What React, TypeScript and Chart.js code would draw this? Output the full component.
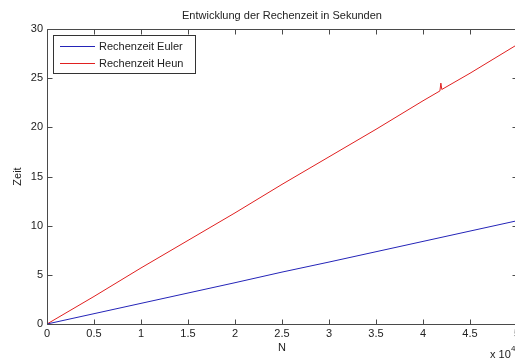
import React, { useEffect, useRef } from "react";
import { Chart, registerables } from "chart.js";

Chart.register(...registerables);

// Problem size N and measured run time (seconds)
const nEuler = [0, 5000, 10000, 15000, 20000, 25000, 30000, 35000, 40000, 45000, 50000];
const timeEuler = [0, 1.05, 2.1, 3.15, 4.2, 5.28, 6.3, 7.35, 8.4, 9.45, 10.5];

const nHeun = [0, 5000, 10000, 15000, 20000, 25000, 30000, 35000, 40000, 41800, 41900, 42000, 45000, 50000];
const timeHeun = [0, 2.8, 5.7, 8.5, 11.3, 14.2, 17.0, 19.8, 22.7, 23.7, 24.5, 23.85, 25.5, 28.4];

const seriesLabels = ["Rechenzeit Euler", "Rechenzeit Heun"];
const seriesColors = ["#2424b8", "#e02020"];

const xTicks = [0, 5000, 10000, 15000, 20000, 25000, 30000, 35000, 40000, 45000, 50000];
const yTicks = [0, 5, 10, 15, 20, 25, 30];

const titleText = "Entwicklung der Rechenzeit in Sekunden";
const xTitle = "N";
const yTitle = "Zeit";

const FONT = "'Liberation Sans', Arial, sans-serif";
const TEXT = "#222";
const AXIS = "#4a4a4a";

const toPoints = (xs: number[], ys: number[]) => xs.map((x, i) => ({ x, y: ys[i] }));

// Boxed axes with inward ticks, title, axis titles, exponent note and legend
const matlabFrame = {
  id: "matlabFrame",
  afterDatasetsDraw(chart: any) {
    const { ctx, chartArea } = chart;
    const { left, right, top, bottom } = chartArea;
    const xs = chart.scales.x;
    const ys = chart.scales.y;
    const tick = 5;
    ctx.save();
    ctx.strokeStyle = AXIS;
    ctx.lineWidth = 1;
    const L = Math.round(left) + 0.5;
    const R = Math.round(right) + 0.5;
    const T = Math.round(top) + 0.5;
    const B = Math.round(bottom) + 0.5;
    ctx.beginPath();
    ctx.rect(L, T, R - L, B - T);
    ctx.stroke();
    ctx.beginPath();
    xTicks.forEach((v) => {
      const px = Math.round(xs.getPixelForValue(v)) + 0.5;
      ctx.moveTo(px, B);
      ctx.lineTo(px, B - tick);
      ctx.moveTo(px, T);
      ctx.lineTo(px, T + tick);
    });
    yTicks.forEach((v) => {
      const py = Math.round(ys.getPixelForValue(v)) + 0.5;
      ctx.moveTo(L, py);
      ctx.lineTo(L + tick, py);
      ctx.moveTo(R, py);
      ctx.lineTo(R - tick, py);
    });
    ctx.stroke();

    ctx.fillStyle = TEXT;
    ctx.font = `11px ${FONT}`;
    ctx.textAlign = "center";
    ctx.textBaseline = "middle";
    ctx.fillText(titleText, (left + right) / 2, 16);
    ctx.fillText(xTitle, (left + right) / 2, 348);
    ctx.save();
    ctx.translate(18, (top + bottom) / 2);
    ctx.rotate(-Math.PI / 2);
    ctx.fillText(yTitle, 0, 0);
    ctx.restore();

    // exponent note for the N axis
    ctx.textAlign = "left";
    ctx.textBaseline = "alphabetic";
    ctx.font = `11px ${FONT}`;
    ctx.fillText("x 10", 490, 358);
    ctx.font = `8px ${FONT}`;
    ctx.fillText("4", 511, 351);

    // legend
    const lx = 53.5, ly = 35.5, lw = 142, lh = 38;
    ctx.fillStyle = "#fff";
    ctx.fillRect(lx, ly, lw, lh);
    ctx.strokeStyle = "#333";
    ctx.strokeRect(lx, ly, lw, lh);
    ctx.font = `11px ${FONT}`;
    ctx.textBaseline = "middle";
    seriesLabels.forEach((label, i) => {
      const y = 46.5 + i * 17;
      ctx.strokeStyle = seriesColors[i];
      ctx.lineWidth = 1;
      ctx.beginPath();
      ctx.moveTo(60, y);
      ctx.lineTo(95, y);
      ctx.stroke();
      ctx.fillStyle = TEXT;
      ctx.fillText(label, 99, y);
    });
    ctx.restore();
  },
};

export default function App() {
  const canvasRef = useRef<HTMLCanvasElement | null>(null);

  useEffect(() => {
    document.body.style.margin = "0";
    const canvas = canvasRef.current;
    if (!canvas) return;
    const chart = new Chart(canvas, {
      type: "line",
      data: {
        datasets: [
          {
            label: seriesLabels[0],
            data: toPoints(nEuler, timeEuler),
            borderColor: seriesColors[0],
            borderWidth: 1,
            pointRadius: 0,
            tension: 0,
            fill: false,
          },
          {
            label: seriesLabels[1],
            data: toPoints(nHeun, timeHeun),
            borderColor: seriesColors[1],
            borderWidth: 1,
            pointRadius: 0,
            tension: 0,
            fill: false,
          },
        ],
      },
      options: {
        responsive: false,
        animation: false,
        devicePixelRatio: 1,
        layout: { padding: { top: 29, right: 13, left: 0, bottom: 0 } },
        plugins: {
          legend: { display: false },
          title: { display: false },
          tooltip: { enabled: false },
        },
        scales: {
          x: {
            type: "linear",
            min: 0,
            max: 50000,
            grid: { display: false, drawTicks: false },
            border: { display: false },
            afterBuildTicks: (scale: any) => {
              scale.ticks = xTicks.map((v) => ({ value: v }));
            },
            afterFit: (scale: any) => {
              scale.height = 36;
            },
            ticks: {
              padding: 3,
              color: TEXT,
              font: { family: FONT, size: 11 },
              maxRotation: 0,
              autoSkip: false,
              callback: (v: any) => String(Number(v) / 10000),
            },
          },
          y: {
            type: "linear",
            min: 0,
            max: 30,
            grid: { display: false, drawTicks: false },
            border: { display: false },
            afterBuildTicks: (scale: any) => {
              scale.ticks = yTicks.map((v) => ({ value: v }));
            },
            afterFit: (scale: any) => {
              scale.width = 47;
            },
            ticks: {
              padding: 4,
              color: TEXT,
              font: { family: FONT, size: 11 },
              autoSkip: false,
            },
          },
        },
      },
      plugins: [matlabFrame],
    });
    return () => chart.destroy();
  }, []);

  return (
    <div style={{ position: "absolute", left: 0, top: 0, width: 515, height: 360, overflow: "hidden", background: "#fff" }}>
      <canvas ref={canvasRef} width={530} height={360} style={{ display: "block" }} />
    </div>
  );
}
